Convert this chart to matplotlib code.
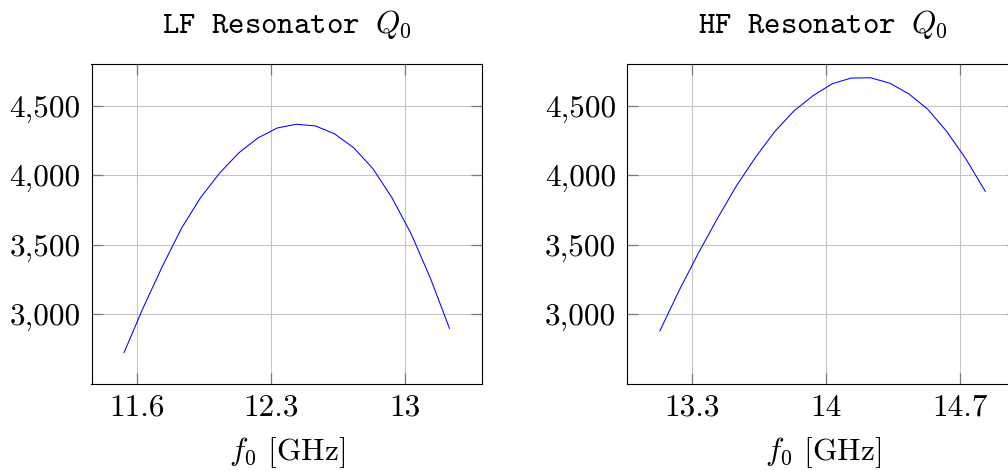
import matplotlib
matplotlib.use("Agg")
import matplotlib.pyplot as plt
from matplotlib.ticker import FuncFormatter

# measured resonator quality factors, 0.1 GHz steps
lf_freq = [11.53, 11.63, 11.73, 11.83, 11.93, 12.03, 12.13, 12.23, 12.33,
           12.43, 12.53, 12.63, 12.73, 12.83, 12.93, 13.03, 13.13, 13.23]
lf_q0 = [2726, 3048, 3345, 3619, 3840, 4017, 4162, 4269, 4340,
         4367, 4355, 4298, 4198, 4048, 3838, 3579, 3262, 2900]

hf_freq = [13.13, 13.23, 13.33, 13.43, 13.53, 13.63, 13.73, 13.83, 13.93,
           14.03, 14.13, 14.23, 14.33, 14.43, 14.53, 14.63, 14.73, 14.83]
hf_q0 = [2881, 3170, 3437, 3688, 3924, 4130, 4314, 4462, 4572,
         4658, 4699, 4701, 4663, 4586, 4474, 4313, 4115, 3885]

lf_ticks = [11.6, 12.3, 13]
hf_ticks = [13.3, 14, 14.7]
y_ticks = [3000, 3500, 4000, 4500]

plt.rcParams['mathtext.fontset'] = 'cm'
plt.rcParams['font.family'] = 'cmr10'
plt.rcParams['axes.formatter.use_mathtext'] = True

W, H = 1008, 471
fig = plt.figure(figsize=(W / 100, H / 100), dpi=100)

FS = 22.5


def make_panel(left, freq, q0, ticks, name):
    ax = fig.add_axes([left / W, (H - 384) / H, 390.5 / W, 320 / H])
    ax.plot(freq, q0, color=(0, 0, 1), lw=0.75, zorder=3)
    span = freq[-1] - freq[0]
    ax.set_xlim(freq[0] - 0.1 * span, freq[-1] + 0.1 * span)
    ax.set_ylim(2500, 4800)
    ax.set_xticks(ticks)
    ax.set_yticks(y_ticks)
    ax.xaxis.set_major_formatter(FuncFormatter(lambda v, p: "%g" % v))
    ax.yaxis.set_major_formatter(FuncFormatter(lambda v, p: "{:,.0f}".format(v)))
    ax.grid(True, color='#c4c4c4', lw=0.75)
    ax.set_axisbelow(True)
    ax.tick_params(direction='in', length=8, width=0.9, color='#7a7a7a',
                   top=True, right=True, labelsize=FS)
    ax.tick_params(axis='x', pad=7)
    ax.tick_params(axis='y', pad=8)
    for s in ax.spines.values():
        s.set_linewidth(0.8)
    ax.set_xlabel("$f_0$ [GHz]", fontsize=FS, labelpad=10)
    ax.text(0.5, 1.097, name + " $Q_0$", transform=ax.transAxes,
            ha='center', va='baseline', fontsize=FS, family='cmtt10')
    return ax


make_panel(91.5, lf_freq, lf_q0, lf_ticks, "LF Resonator")
make_panel(627.3, hf_freq, hf_q0, hf_ticks, "HF Resonator")

plt.savefig('out.png', dpi=100)
